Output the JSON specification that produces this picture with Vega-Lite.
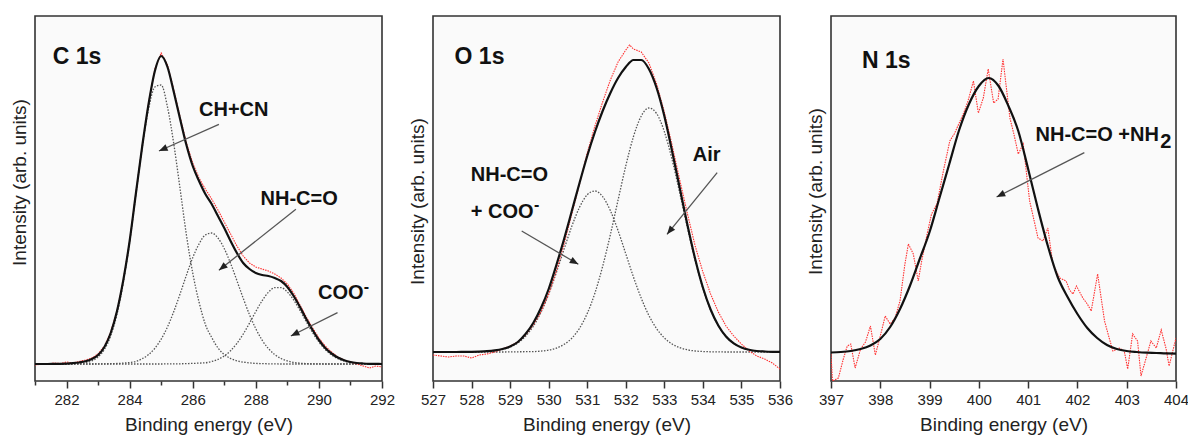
{
  "$schema": "https://vega.github.io/schema/vega-lite/v6.json",
  "background": "#ffffff",
  "padding": {"left": 9, "top": 15, "right": 5, "bottom": 0},
  "spacing": 51,
  "bounds": "flush",
  "config": {
    "font": "Liberation Sans",
    "view": {"stroke": "#333333", "strokeWidth": 1.6, "fill": "#fafafa"},
    "axis": {"labelFont": "Liberation Sans", "labelFontSize": 15, "labelColor": "#222222", "titleFont": "Liberation Sans", "titleFontSize": 19, "titleFontWeight": "normal", "titleColor": "#222222", "tickColor": "#333333", "tickWidth": 1.5, "grid": false, "domain": false, "labelFlush": false, "labelOverlap": false}
  },
  "datasets": {
    "c_fit": [
      {"E":281.0,"fit":0,"a":0,"b":0,"c":0},{"E":281.2,"fit":0,"a":0,"b":0,"c":0},{"E":281.4,"fit":0,"a":0,"b":0,"c":0},{"E":281.6,"fit":0.1,"a":0,"b":0,"c":0},{"E":281.8,"fit":0.2,"a":0,"b":0,"c":0},
      {"E":282.0,"fit":0.4,"a":0.1,"b":0,"c":0},{"E":282.2,"fit":0.8,"a":0.2,"b":0,"c":0},{"E":282.4,"fit":1.5,"a":0.5,"b":0,"c":0},{"E":282.6,"fit":2.7,"a":1.3,"b":0,"c":0},{"E":282.8,"fit":5,"a":3.1,"b":0,"c":0},
      {"E":283.0,"fit":9,"a":7.1,"b":0.1,"c":0},{"E":283.2,"fit":17,"a":14.6,"b":0.2,"c":0},{"E":283.4,"fit":31,"a":28.2,"b":0.3,"c":0},{"E":283.6,"fit":53,"a":50,"b":0.5,"c":0},{"E":283.8,"fit":84,"a":81.5,"b":0.9,"c":0},
      {"E":284.0,"fit":123,"a":122,"b":1.5,"c":0},{"E":284.2,"fit":171,"a":170,"b":2.5,"c":0},{"E":284.4,"fit":218,"a":217,"b":5.3,"c":0},{"E":284.6,"fit":260,"a":255,"b":9.4,"c":0},{"E":284.8,"fit":293,"a":277,"b":15.7,"c":0},
      {"E":285.0,"fit":308,"a":279,"b":24.9,"c":0},{"E":285.2,"fit":297,"a":257,"b":37.1,"c":0.1},{"E":285.4,"fit":272,"a":220,"b":52.5,"c":0.1},{"E":285.6,"fit":245,"a":175,"b":70.2,"c":0.2},{"E":285.8,"fit":219,"a":129,"b":88.8,"c":0.4},
      {"E":286.0,"fit":198,"a":91,"b":106.3,"c":0.6},{"E":286.2,"fit":183,"a":62,"b":120,"c":0.9},{"E":286.4,"fit":170,"a":39.6,"b":129,"c":1.2},{"E":286.6,"fit":160,"a":26.6,"b":131,"c":2.5},{"E":286.8,"fit":148,"a":16,"b":126,"c":4.6},
      {"E":287.0,"fit":136,"a":9.4,"b":115.4,"c":8.1},{"E":287.2,"fit":123,"a":5.5,"b":100.6,"c":13.3},{"E":287.4,"fit":111,"a":3.2,"b":83.4,"c":20.6},{"E":287.6,"fit":101,"a":1.9,"b":65.8,"c":29.9},{"E":287.8,"fit":95,"a":1.1,"b":49.3,"c":40.9},
      {"E":288.0,"fit":91,"a":0.6,"b":35.2,"c":52.5},{"E":288.2,"fit":89,"a":0.4,"b":23.9,"c":63.3},{"E":288.4,"fit":88,"a":0.2,"b":15.4,"c":71.8},{"E":288.6,"fit":86,"a":0.1,"b":9.5,"c":76.4},{"E":288.8,"fit":83,"a":0,"b":5.5,"c":76.4},
      {"E":289.0,"fit":77,"a":0,"b":3.1,"c":72},{"E":289.2,"fit":68,"a":0,"b":1.6,"c":64},{"E":289.4,"fit":57,"a":0,"b":0.8,"c":53.6},{"E":289.6,"fit":45,"a":0,"b":0.4,"c":42.3},{"E":289.8,"fit":34,"a":0,"b":0.2,"c":31.4},
      {"E":290.0,"fit":24,"a":0,"b":0.1,"c":22},{"E":290.2,"fit":16,"a":0,"b":0,"c":14.5},{"E":290.4,"fit":10.5,"a":0,"b":0,"c":9.1},{"E":290.6,"fit":6.5,"a":0,"b":0,"c":5.3},{"E":290.8,"fit":3.8,"a":0,"b":0,"c":2.9},
      {"E":291.0,"fit":2,"a":0,"b":0,"c":1.5},{"E":291.2,"fit":1,"a":0,"b":0,"c":0.8},{"E":291.4,"fit":0.5,"a":0,"b":0,"c":0.4},{"E":291.6,"fit":0.2,"a":0,"b":0,"c":0.2},{"E":291.8,"fit":0.1,"a":0,"b":0,"c":0.1},{"E":292.0,"fit":0,"a":0,"b":0,"c":0}
    ],
    "c_obs": [
      {"E":281.0,"I":-1},{"E":281.2,"I":0},{"E":281.4,"I":-0.5},{"E":281.6,"I":1},{"E":281.8,"I":0.5},{"E":282.0,"I":2},{"E":282.2,"I":1},{"E":282.4,"I":2.5},{"E":282.6,"I":4},{"E":282.8,"I":6},
      {"E":283.0,"I":10},{"E":283.2,"I":18},{"E":283.4,"I":32},{"E":283.6,"I":53},{"E":283.8,"I":84},{"E":284.0,"I":123},{"E":284.2,"I":171},{"E":284.4,"I":218},{"E":284.6,"I":261},{"E":284.8,"I":295},
      {"E":285.0,"I":311},{"E":285.2,"I":299},{"E":285.4,"I":274},{"E":285.6,"I":247},{"E":285.8,"I":221},{"E":286.0,"I":201},{"E":286.2,"I":186},{"E":286.4,"I":175},{"E":286.6,"I":165},{"E":286.8,"I":154},
      {"E":287.0,"I":142},{"E":287.2,"I":130},{"E":287.4,"I":118},{"E":287.6,"I":108},{"E":287.8,"I":101},{"E":288.0,"I":97},{"E":288.2,"I":95},{"E":288.4,"I":93},{"E":288.6,"I":90},{"E":288.8,"I":86},
      {"E":289.0,"I":80},{"E":289.2,"I":71},{"E":289.4,"I":59},{"E":289.6,"I":47},{"E":289.8,"I":36},{"E":290.0,"I":26},{"E":290.2,"I":18},{"E":290.4,"I":12},{"E":290.6,"I":7},{"E":290.8,"I":4},
      {"E":291.0,"I":2},{"E":291.2,"I":0},{"E":291.4,"I":-2},{"E":291.6,"I":-4},{"E":291.8,"I":-2},{"E":292.0,"I":-3}
    ],
    "o_fit": [
      {"E":527.0,"fit":0,"a":0,"b":0},{"E":527.2,"fit":0,"a":0,"b":0},{"E":527.4,"fit":0,"a":0,"b":0},{"E":527.6,"fit":0,"a":0,"b":0},{"E":527.8,"fit":0.1,"a":0,"b":0},
      {"E":528.0,"fit":0.2,"a":0.1,"b":0},{"E":528.2,"fit":0.4,"a":0.2,"b":0},{"E":528.4,"fit":0.8,"a":0.5,"b":0},{"E":528.6,"fit":1.6,"a":1.2,"b":0},{"E":528.8,"fit":3,"a":2.5,"b":0},
      {"E":529.0,"fit":5.5,"a":4.9,"b":0.1},{"E":529.2,"fit":10,"a":9,"b":0.2},{"E":529.4,"fit":18,"a":15.7,"b":0.3},{"E":529.6,"fit":29,"a":25.7,"b":0.4},{"E":529.8,"fit":44,"a":39.7,"b":0.9},
      {"E":530.0,"fit":63,"a":57.8,"b":1.9},{"E":530.2,"fit":87,"a":79.5,"b":3.9},{"E":530.4,"fit":113,"a":102.9,"b":7.6},{"E":530.6,"fit":141,"a":125.7,"b":13.8},{"E":530.8,"fit":169,"a":144.7,"b":23.7},
      {"E":531.0,"fit":196,"a":157.2,"b":38.5},{"E":531.2,"fit":220,"a":161,"b":59},{"E":531.4,"fit":241,"a":155.4,"b":85.6},{"E":531.6,"fit":259,"a":141.4,"b":117.3},{"E":531.8,"fit":274,"a":121.4,"b":152},
      {"E":532.0,"fit":285,"a":98.2,"b":186.1},{"E":532.2,"fit":292,"a":74.9,"b":215.5},{"E":532.4,"fit":292,"a":53.9,"b":235.8},{"E":532.6,"fit":283,"a":36.5,"b":244},{"E":532.8,"fit":264,"a":23.4,"b":238.5},
      {"E":533.0,"fit":236,"a":14.1,"b":220.4},{"E":533.2,"fit":201,"a":8,"b":192.5},{"E":533.4,"fit":164,"a":4.3,"b":159},{"E":533.6,"fit":127,"a":2.2,"b":124.1},{"E":533.8,"fit":93,"a":1,"b":91.5},
      {"E":534.0,"fit":64.5,"a":0.5,"b":63.8},{"E":534.2,"fit":42.5,"a":0.2,"b":42.1},{"E":534.4,"fit":26.5,"a":0.1,"b":26.2},{"E":534.6,"fit":15.5,"a":0,"b":15.4},{"E":534.8,"fit":8.6,"a":0,"b":8.6},
      {"E":535.0,"fit":4.5,"a":0,"b":4.5},{"E":535.2,"fit":2.2,"a":0,"b":2.2},{"E":535.4,"fit":1,"a":0,"b":1},{"E":535.6,"fit":0.5,"a":0,"b":0.5},{"E":535.8,"fit":0.2,"a":0,"b":0.2},{"E":536.0,"fit":0.1,"a":0,"b":0.1}
    ],
    "o_obs": [
      {"E":527.0,"I":-3},{"E":527.2,"I":-4},{"E":527.4,"I":-5},{"E":527.6,"I":-4},{"E":527.8,"I":-4},{"E":528.0,"I":-6},{"E":528.2,"I":-3},{"E":528.4,"I":-2},{"E":528.6,"I":0},{"E":528.8,"I":3},
      {"E":529.0,"I":6},{"E":529.2,"I":10},{"E":529.4,"I":17},{"E":529.6,"I":27},{"E":529.8,"I":40},{"E":530.0,"I":58},{"E":530.2,"I":81},{"E":530.4,"I":108},{"E":530.6,"I":138},{"E":530.8,"I":168},
      {"E":531.0,"I":199},{"E":531.2,"I":226},{"E":531.4,"I":250},{"E":531.6,"I":272},{"E":531.8,"I":290},{"E":532.0,"I":302},{"E":532.1,"I":307},{"E":532.2,"I":303},{"E":532.4,"I":300},{"E":532.6,"I":289},
      {"E":532.8,"I":268},{"E":533.0,"I":240},{"E":533.2,"I":207},{"E":533.4,"I":172},{"E":533.6,"I":138},{"E":533.8,"I":106},{"E":534.0,"I":80},{"E":534.2,"I":58},{"E":534.4,"I":40},{"E":534.6,"I":26},
      {"E":534.8,"I":16},{"E":535.0,"I":8},{"E":535.2,"I":1},{"E":535.4,"I":-4},{"E":535.6,"I":-7},{"E":535.8,"I":-11},{"E":536.0,"I":-17}
    ],
    "n_fit": [
      {"E":397.0,"I":1.5},{"E":397.2,"I":2},{"E":397.4,"I":3},{"E":397.6,"I":5},{"E":397.8,"I":8.5},{"E":398.0,"I":15},{"E":398.2,"I":27},{"E":398.4,"I":45},{"E":398.6,"I":68},{"E":398.8,"I":95},
      {"E":399.0,"I":122},{"E":399.2,"I":156},{"E":399.4,"I":190},{"E":399.6,"I":224},{"E":399.8,"I":250},{"E":400.0,"I":268},{"E":400.2,"I":276},{"E":400.4,"I":268},{"E":400.6,"I":248},{"E":400.8,"I":223},
      {"E":401.0,"I":185},{"E":401.2,"I":145},{"E":401.4,"I":108},{"E":401.6,"I":77},{"E":401.8,"I":57},{"E":402.0,"I":40},{"E":402.2,"I":26},{"E":402.4,"I":16},{"E":402.6,"I":9},{"E":402.8,"I":5},
      {"E":403.0,"I":3},{"E":403.2,"I":2},{"E":403.4,"I":1.3},{"E":403.6,"I":1},{"E":403.8,"I":0.6},{"E":404.0,"I":0.4}
    ],
    "n_obs": [
      {"E":397.0,"I":0},{"E":397.03,"I":-27},{"E":397.15,"I":-24},{"E":397.25,"I":-5},{"E":397.33,"I":8},{"E":397.4,"I":10},{"E":397.49,"I":-14},{"E":397.6,"I":5},{"E":397.7,"I":12},{"E":397.8,"I":28},
      {"E":397.9,"I":-1},{"E":398.0,"I":18},{"E":398.1,"I":38},{"E":398.2,"I":30},{"E":398.3,"I":36},{"E":398.4,"I":53},{"E":398.5,"I":90},{"E":398.57,"I":110},{"E":398.67,"I":100},{"E":398.77,"I":73},
      {"E":398.84,"I":93},{"E":398.95,"I":120},{"E":399.04,"I":140},{"E":399.15,"I":150},{"E":399.28,"I":183},{"E":399.41,"I":213},{"E":399.5,"I":220},{"E":399.62,"I":233},{"E":399.7,"I":242},{"E":399.78,"I":253},
      {"E":399.89,"I":273},{"E":399.99,"I":241},{"E":400.09,"I":256},{"E":400.19,"I":285},{"E":400.3,"I":251},{"E":400.39,"I":255},{"E":400.49,"I":295},{"E":400.63,"I":236},{"E":400.71,"I":220},{"E":400.8,"I":200},
      {"E":400.9,"I":210},{"E":401.03,"I":153},{"E":401.1,"I":138},{"E":401.2,"I":116},{"E":401.3,"I":113},{"E":401.4,"I":126},{"E":401.5,"I":90},{"E":401.64,"I":76},{"E":401.77,"I":73},{"E":401.84,"I":64},
      {"E":401.91,"I":60},{"E":401.98,"I":68},{"E":402.11,"I":56},{"E":402.2,"I":50},{"E":402.28,"I":43},{"E":402.41,"I":80},{"E":402.55,"I":33},{"E":402.65,"I":15},{"E":402.72,"I":3},{"E":402.85,"I":6},
      {"E":402.95,"I":3},{"E":403.02,"I":-15},{"E":403.12,"I":20},{"E":403.22,"I":13},{"E":403.29,"I":-22},{"E":403.4,"I":-3},{"E":403.49,"I":13},{"E":403.6,"I":6},{"E":403.7,"I":24},{"E":403.8,"I":5},
      {"E":403.86,"I":-12},{"E":404.0,"I":16}
    ],
    "labels": [
      {"panel":"C","kind":"h","E":281.56,"I":300,"text":"C 1s"},
      {"panel":"C","kind":"n","E":286.2,"I":248,"text":"CH+CN"},
      {"panel":"C","kind":"n","E":288.15,"I":159,"text":"NH-C=O"},
      {"panel":"C","kind":"n","E":289.97,"I":64.7,"text":"COO"},
      {"panel":"C","kind":"s","E":291.42,"I":72,"text":"-"},
      {"panel":"O","kind":"h","E":527.56,"I":287.7,"text":"O 1s"},
      {"panel":"O","kind":"n","E":533.74,"I":191,"text":"Air"},
      {"panel":"O","kind":"n","E":527.98,"I":171,"text":"NH-C=O"},
      {"panel":"O","kind":"n","E":527.98,"I":134.3,"text":"+ COO"},
      {"panel":"O","kind":"s","E":529.62,"I":142,"text":"-"},
      {"panel":"N","kind":"h","E":397.63,"I":286.3,"text":"N 1s"},
      {"panel":"N","kind":"n","E":401.15,"I":213,"text":"NH-C=O +NH"},
      {"panel":"N","kind":"n","E":403.68,"I":206.3,"text":"2"}
    ],
    "arrows": [
      {"panel":"C","id":"ch","E":286.83,"I":239.7,"E2":284.93,"I2":213},
      {"panel":"C","id":"nh","E":289.27,"I":154.7,"E2":286.83,"I2":93.7},
      {"panel":"C","id":"coo","E":290.59,"I":51.3,"E2":289.11,"I2":28},
      {"panel":"O","id":"onh","E":529.3,"I":121,"E2":530.77,"I2":87.7},
      {"panel":"O","id":"air","E":534.37,"I":179.3,"E2":533.07,"I2":117.7},
      {"panel":"N","id":"n","E":402.14,"I":201.3,"E2":400.36,"I2":157}
    ]
  },
  "hconcat": [
    {
      "width": 347, "height": 365,
      "encoding": {
        "x": {"field": "E", "type": "quantitative", "scale": {"domain": [281, 292], "nice": false, "zero": false},
              "axis": {"title": "Binding energy (eV)", "format": "d", "values": [281,282,283,284,285,286,287,288,289,290,291,292], "labelExpr": "datum.value % 2 == 0 ? datum.label : ''", "tickSize": {"condition": {"test": "datum.value % 2 != 0", "value": 4}, "value": 7}, "labelPadding": 4, "titlePadding": 8}},
        "y": {"field": "I", "type": "quantitative", "scale": {"domain": [-17, 348], "nice": false, "zero": false},
              "axis": {"title": "Intensity (arb. units)", "ticks": false, "labels": false, "titlePadding": 6, "titleY": 166}}
      },
      "layer": [
        {"data": {"name": "c_fit"}, "transform": [{"fold": ["a","b","c"], "as": ["s","I"]}],
         "mark": {"type": "line", "color": "#555555", "strokeWidth": 1.3, "strokeDash": [1.5, 1.5], "interpolate": "monotone"},
         "encoding": {"detail": {"field": "s"}}},
        {"data": {"name": "c_obs"},
         "mark": {"type": "line", "color": "#ff3030", "strokeWidth": 1.1, "strokeDash": [1.5, 1], "clip": true}},
        {"data": {"name": "c_fit"}, "transform": [{"fold": ["fit"], "as": ["s","I"]}],
         "mark": {"type": "line", "color": "#111111", "strokeWidth": 2.2, "interpolate": "monotone"}},
        {"data": {"name": "arrows"}, "transform": [{"filter": "datum.panel == 'C'"}],
         "mark": {"type": "rule", "color": "#555555", "strokeWidth": 1.3},
         "encoding": {"x2": {"field": "E2"}, "y2": {"field": "I2"}}},
        {"data": {"name": "arrows"}, "transform": [{"filter": "datum.id == 'ch'"}],
         "mark": {"type": "point", "shape": "M0,0L0.4,1L-0.4,1Z", "filled": true, "color": "#222222", "size": 300, "angle": 246, "opacity": 1},
         "encoding": {"x": {"field": "E2", "type": "quantitative"}, "y": {"field": "I2", "type": "quantitative"}}},
        {"data": {"name": "arrows"}, "transform": [{"filter": "datum.id == 'nh'"}],
         "mark": {"type": "point", "shape": "M0,0L0.4,1L-0.4,1Z", "filled": true, "color": "#222222", "size": 300, "angle": 231.5, "opacity": 1},
         "encoding": {"x": {"field": "E2", "type": "quantitative"}, "y": {"field": "I2", "type": "quantitative"}}},
        {"data": {"name": "arrows"}, "transform": [{"filter": "datum.id == 'coo'"}],
         "mark": {"type": "point", "shape": "M0,0L0.4,1L-0.4,1Z", "filled": true, "color": "#222222", "size": 300, "angle": 243.5, "opacity": 1},
         "encoding": {"x": {"field": "E2", "type": "quantitative"}, "y": {"field": "I2", "type": "quantitative"}}},
        {"data": {"name": "labels"}, "transform": [{"filter": "datum.panel == 'C' && datum.kind == 'h'"}],
         "mark": {"type": "text", "align": "left", "baseline": "alphabetic", "fontSize": 23, "fontWeight": "bold", "color": "#111111"},
         "encoding": {"text": {"field": "text"}}},
        {"data": {"name": "labels"}, "transform": [{"filter": "datum.panel == 'C' && datum.kind == 'n'"}],
         "mark": {"type": "text", "align": "left", "baseline": "alphabetic", "fontSize": 20, "fontWeight": "bold", "color": "#111111"},
         "encoding": {"text": {"field": "text"}}},
        {"data": {"name": "labels"}, "transform": [{"filter": "datum.panel == 'C' && datum.kind == 's'"}],
         "mark": {"type": "text", "align": "left", "baseline": "alphabetic", "fontSize": 16, "fontWeight": "bold", "color": "#111111"},
         "encoding": {"text": {"field": "text"}}}
      ]
    },
    {
      "width": 347, "height": 365,
      "encoding": {
        "x": {"field": "E", "type": "quantitative", "scale": {"domain": [527, 536], "nice": false, "zero": false},
              "axis": {"title": "Binding energy (eV)", "format": "d", "values": [527,527.5,528,528.5,529,529.5,530,530.5,531,531.5,532,532.5,533,533.5,534,534.5,535,535.5,536], "labelExpr": "datum.value % 1 == 0 ? datum.label : ''", "tickSize": {"condition": {"test": "datum.value % 1 != 0", "value": 4}, "value": 7}, "labelPadding": 4, "titlePadding": 8}},
        "y": {"field": "I", "type": "quantitative", "scale": {"domain": [-29, 336], "nice": false, "zero": false},
              "axis": {"title": "Intensity (arb. units)", "ticks": false, "labels": false, "titlePadding": 6, "titleY": 185}}
      },
      "layer": [
        {"data": {"name": "o_fit"}, "transform": [{"fold": ["a","b"], "as": ["s","I"]}],
         "mark": {"type": "line", "color": "#555555", "strokeWidth": 1.3, "strokeDash": [1.5, 1.5], "interpolate": "monotone"},
         "encoding": {"detail": {"field": "s"}}},
        {"data": {"name": "o_obs"},
         "mark": {"type": "line", "color": "#ff3030", "strokeWidth": 1.1, "strokeDash": [1.5, 1], "clip": true}},
        {"data": {"name": "o_fit"}, "transform": [{"fold": ["fit"], "as": ["s","I"]}],
         "mark": {"type": "line", "color": "#111111", "strokeWidth": 2.2, "interpolate": "monotone"}},
        {"data": {"name": "arrows"}, "transform": [{"filter": "datum.panel == 'O'"}],
         "mark": {"type": "rule", "color": "#555555", "strokeWidth": 1.3},
         "encoding": {"x2": {"field": "E2"}, "y2": {"field": "I2"}}},
        {"data": {"name": "arrows"}, "transform": [{"filter": "datum.id == 'onh'"}],
         "mark": {"type": "point", "shape": "M0,0L0.4,1L-0.4,1Z", "filled": true, "color": "#222222", "size": 300, "angle": 120.4, "opacity": 1},
         "encoding": {"x": {"field": "E2", "type": "quantitative"}, "y": {"field": "I2", "type": "quantitative"}}},
        {"data": {"name": "arrows"}, "transform": [{"filter": "datum.id == 'air'"}],
         "mark": {"type": "point", "shape": "M0,0L0.4,1L-0.4,1Z", "filled": true, "color": "#222222", "size": 300, "angle": 219, "opacity": 1},
         "encoding": {"x": {"field": "E2", "type": "quantitative"}, "y": {"field": "I2", "type": "quantitative"}}},
        {"data": {"name": "labels"}, "transform": [{"filter": "datum.panel == 'O' && datum.kind == 'h'"}],
         "mark": {"type": "text", "align": "left", "baseline": "alphabetic", "fontSize": 23, "fontWeight": "bold", "color": "#111111"},
         "encoding": {"text": {"field": "text"}}},
        {"data": {"name": "labels"}, "transform": [{"filter": "datum.panel == 'O' && datum.kind == 'n'"}],
         "mark": {"type": "text", "align": "left", "baseline": "alphabetic", "fontSize": 20, "fontWeight": "bold", "color": "#111111"},
         "encoding": {"text": {"field": "text"}}},
        {"data": {"name": "labels"}, "transform": [{"filter": "datum.panel == 'O' && datum.kind == 's'"}],
         "mark": {"type": "text", "align": "left", "baseline": "alphabetic", "fontSize": 16, "fontWeight": "bold", "color": "#111111"},
         "encoding": {"text": {"field": "text"}}}
      ]
    },
    {
      "width": 345, "height": 365,
      "encoding": {
        "x": {"field": "E", "type": "quantitative", "scale": {"domain": [397, 404], "nice": false, "zero": false},
              "axis": {"title": "Binding energy (eV)", "format": "d", "values": [397,397.5,398,398.5,399,399.5,400,400.5,401,401.5,402,402.5,403,403.5,404], "labelExpr": "datum.value % 1 == 0 ? datum.label : ''", "tickSize": {"condition": {"test": "datum.value % 1 != 0", "value": 4}, "value": 7}, "labelPadding": 4, "titlePadding": 8}},
        "y": {"field": "I", "type": "quantitative", "scale": {"domain": [-27, 338], "nice": false, "zero": false},
              "axis": {"title": "Intensity (arb. units)", "ticks": false, "labels": false, "titlePadding": 6, "titleY": 175}}
      },
      "layer": [
        {"data": {"name": "n_obs"},
         "mark": {"type": "line", "color": "#ff3030", "strokeWidth": 1.1, "strokeDash": [1.5, 1], "clip": true}},
        {"data": {"name": "n_fit"},
         "mark": {"type": "line", "color": "#111111", "strokeWidth": 2.2, "interpolate": "monotone"}},
        {"data": {"name": "arrows"}, "transform": [{"filter": "datum.panel == 'N'"}],
         "mark": {"type": "rule", "color": "#555555", "strokeWidth": 1.3},
         "encoding": {"x2": {"field": "E2"}, "y2": {"field": "I2"}}},
        {"data": {"name": "arrows"}, "transform": [{"filter": "datum.id == 'n'"}],
         "mark": {"type": "point", "shape": "M0,0L0.4,1L-0.4,1Z", "filled": true, "color": "#222222", "size": 300, "angle": 243.4, "opacity": 1},
         "encoding": {"x": {"field": "E2", "type": "quantitative"}, "y": {"field": "I2", "type": "quantitative"}}},
        {"data": {"name": "labels"}, "transform": [{"filter": "datum.panel == 'N' && datum.kind == 'h'"}],
         "mark": {"type": "text", "align": "left", "baseline": "alphabetic", "fontSize": 23, "fontWeight": "bold", "color": "#111111"},
         "encoding": {"text": {"field": "text"}}},
        {"data": {"name": "labels"}, "transform": [{"filter": "datum.panel == 'N' && datum.kind == 'n'"}],
         "mark": {"type": "text", "align": "left", "baseline": "alphabetic", "fontSize": 20, "fontWeight": "bold", "color": "#111111"},
         "encoding": {"text": {"field": "text"}}}
      ]
    }
  ]
}
